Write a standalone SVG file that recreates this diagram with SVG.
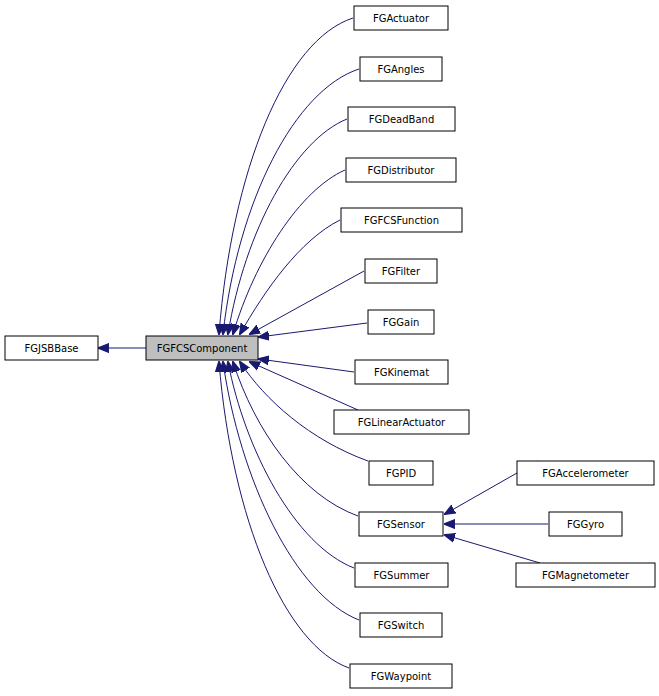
<svg xmlns="http://www.w3.org/2000/svg" width="659" height="696" viewBox="0 0 659 696">
<style>
rect{fill:#fff;stroke:#000;stroke-width:1}
text{font-family:"DejaVu Sans",sans-serif;font-size:10px;text-anchor:middle;fill:#000}
path{fill:none;stroke:#191970;stroke-width:1}
</style>
<defs><marker id="a" viewBox="0 0 10 10" refX="9" refY="5" markerWidth="11" markerHeight="11" markerUnits="userSpaceOnUse" orient="auto"><path d="M0,1 L10,5 L0,9 Z" style="fill:#191970;stroke:#191970"/></marker></defs>
<rect x="0" y="0" width="659" height="696" style="stroke:none"/>
<g id="edges">
<path marker-end="url(#a)" d="M146,348 L99,348"/>
<path marker-end="url(#a)" d="M353,18 C285,40 232,170 219,334"/>
<path marker-end="url(#a)" d="M359,69 C295,90 238,200 223,334"/>
<path marker-end="url(#a)" d="M347,119 C295,140 245,230 228,334"/>
<path marker-end="url(#a)" d="M345,170 C300,190 255,260 233,334"/>
<path marker-end="url(#a)" d="M340,220 C300,240 265,290 240,334"/>
<path marker-end="url(#a)" d="M364,271 L250,334"/>
<path marker-end="url(#a)" d="M367,323 L259,337"/>
<path marker-end="url(#a)" d="M354,372 L259,359"/>
<path marker-end="url(#a)" d="M358,410 L250,362"/>
<path marker-end="url(#a)" d="M368,461 C310,440 265,400 240,362"/>
<path marker-end="url(#a)" d="M358,516 C300,495 255,430 233,362"/>
<path marker-end="url(#a)" d="M354,568 C295,545 245,450 228,362"/>
<path marker-end="url(#a)" d="M359,620 C295,595 240,480 223,362"/>
<path marker-end="url(#a)" d="M349,668 C285,645 232,520 219,362"/>
<path marker-end="url(#a)" d="M538,461 L445,514"/>
<path marker-end="url(#a)" d="M548,524 L445,524"/>
<path marker-end="url(#a)" d="M540,563 L445,535"/>
</g>
<g id="FGJSBBase"><rect x="5" y="336" width="93" height="24"/><text x="51.5" y="352">FGJSBBase</text></g>
<g id="FGFCSComponent"><rect x="146" y="336" width="112" height="24" style="fill:#bfbfbf"/><text x="202" y="352">FGFCSComponent</text></g>
<g id="FGActuator"><rect x="354" y="6" width="94" height="24"/><text x="401" y="22">FGActuator</text></g>
<g id="FGAngles"><rect x="360" y="57" width="82" height="24"/><text x="401" y="73">FGAngles</text></g>
<g id="FGDeadBand"><rect x="348" y="107" width="107" height="24"/><text x="401.5" y="123">FGDeadBand</text></g>
<g id="FGDistributor"><rect x="346" y="158" width="110" height="24"/><text x="401" y="174">FGDistributor</text></g>
<g id="FGFCSFunction"><rect x="341" y="208" width="121" height="24"/><text x="401.5" y="224">FGFCSFunction</text></g>
<g id="FGFilter"><rect x="365" y="259" width="72" height="24"/><text x="401" y="275">FGFilter</text></g>
<g id="FGGain"><rect x="368" y="310" width="66" height="24"/><text x="401" y="326">FGGain</text></g>
<g id="FGKinemat"><rect x="355" y="360" width="93" height="24"/><text x="401.5" y="376">FGKinemat</text></g>
<g id="FGLinearActuator"><rect x="334" y="410" width="135" height="24"/><text x="401.5" y="426">FGLinearActuator</text></g>
<g id="FGPID"><rect x="369" y="461" width="64" height="24"/><text x="401" y="477">FGPID</text></g>
<g id="FGSensor"><rect x="359" y="512" width="84" height="24"/><text x="401" y="528">FGSensor</text></g>
<g id="FGSummer"><rect x="355" y="563" width="93" height="24"/><text x="401.5" y="579">FGSummer</text></g>
<g id="FGSwitch"><rect x="360" y="613" width="82" height="24"/><text x="401" y="629">FGSwitch</text></g>
<g id="FGWaypoint"><rect x="350" y="664" width="102" height="24"/><text x="401" y="680">FGWaypoint</text></g>
<g id="FGAccelerometer"><rect x="517" y="461" width="137" height="24"/><text x="585.5" y="477">FGAccelerometer</text></g>
<g id="FGGyro"><rect x="549" y="512" width="73" height="24"/><text x="585.5" y="528">FGGyro</text></g>
<g id="FGMagnetometer"><rect x="516" y="563" width="139" height="24"/><text x="585.5" y="579">FGMagnetometer</text></g>
</svg>
